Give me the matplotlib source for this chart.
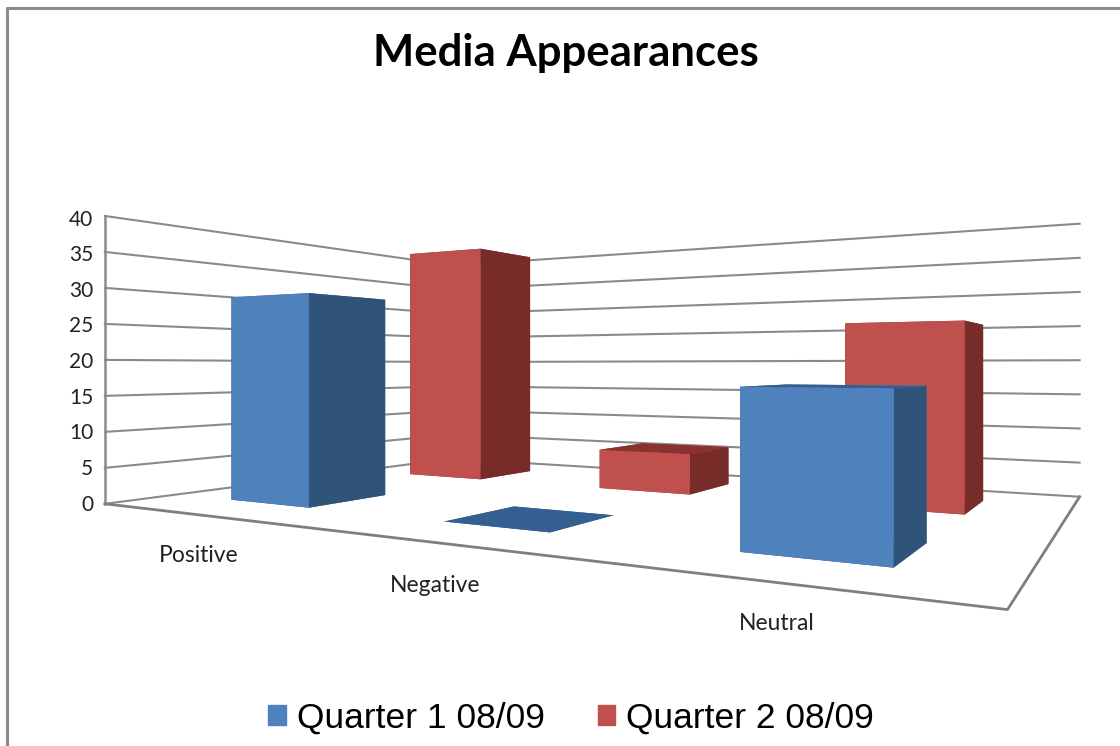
import numpy as np
import matplotlib
matplotlib.use("Agg")
import matplotlib.pyplot as plt
from matplotlib.lines import Line2D
from matplotlib.patches import Patch
from mpl_toolkits.mplot3d import proj3d

# values
categories = ["Positive", "Negative", "Neutral"]
series = ["Quarter 1 08/09", "Quarter 2 08/09"]
q1_values = [29, 0, 17]
q2_values = [39, 6, 25]
z_ticks = [0, 5, 10, 15, 20, 25, 30, 35, 40]

W, H = 1120, 746
fig = plt.figure(figsize=(W / 100, H / 100), dpi=100)

# axes bigger than the figure so the camera centre lands on the floor centre
side = 1120
ax = fig.add_axes([30 / W, -195.5 / H, side / W, side / H], projection="3d")
ax.set_axis_off()
ax.patch.set_alpha(0)
ax.computed_zorder = False

# two point perspective, eye level sits a bit below the middle of the wall
ax.set_proj_type("persp", focal_length=0.1596)
ax.view_init(elev=0, azim=-60)
ax.set_xlim(0, 3)
ax.set_ylim(0, 2)
ax.set_zlim(0, 38.2)
box = np.array([8.13, 5.28, 2.66]) * 0.1662
ax.set_box_aspect(box, zoom=np.linalg.norm(box) / (1.8294640721620434 * 25 / 24))

# walls
grid_color = "#8a8a8a"
for z in z_ticks:
    ax.plot([0, 0, 3], [0, 2, 2], [z, z, z], color=grid_color, lw=1.5, zorder=1)
    # 2d text placed from the projected point left of the wall corner
    tx, ty, _ = proj3d.proj_transform(-0.07, 0, z - 0.3, ax.get_proj())
    ax.text2D(tx, ty, str(z), transform=ax.transData, ha="right", va="center",
              fontsize=15, family="Lato", color="#222222", zorder=6)
ax.plot([0, 0], [0, 0], [0, 40], color=grid_color, lw=1.8, zorder=1)

# floor edge
ax.plot([0, 3, 3], [0, 0, 2], [0, 0, 0], color="#7f7f7f", lw=2, zorder=1)

bar_dx = 0.4
bar_dy = 0.39
blue = ["#2f5a8c", "#365f91", "#4f81bd", "#4f81bd", "#2f5379", "#2f5379"]
red = ["#8a322f", "#8a322f", "#c0504d", "#c0504d", "#772c2a", "#772c2a"]

for i in range(len(categories)):
    ax.bar3d(i + 0.303, 1.5 - bar_dy / 2, 0, bar_dx, bar_dy, q2_values[i],
             color=red, shade=False, linewidth=0, zorder=2)
for i in range(len(categories)):
    ax.bar3d(i + 0.303, 0.5 - bar_dy / 2, 0, bar_dx, bar_dy, q1_values[i],
             color=blue, shade=False, linewidth=0, zorder=3)

# category labels
label_pos = [(199, 556), (435, 585), (777, 624)]
for name, (px, py) in zip(categories, label_pos):
    fig.text(px / W, 1 - py / H, name, ha="center", va="center", fontsize=16.5,
             family="Lato", color="#222222")

fig.text(566 / W, 1 - 53 / H, "Media Appearances", ha="center", va="center",
         fontsize=31.5, fontweight="bold", family="Lato", color="black")

handles = [Patch(color="#4f81bd"), Patch(color="#c0504d")]
fig.legend(handles, series, loc="center", bbox_to_anchor=(571 / W, 1 - 718 / H), ncol=2,
           frameon=False, prop={"family": "Liberation Sans", "size": 25.5},
           handlelength=0.5, handleheight=0.5, handletextpad=0.31, columnspacing=1.5)

# picture frame, left and top only
frame = "#8c8c8c"
fig.add_artist(Line2D([7 / W, 7 / W, 1], [0, 1 - 7.5 / H, 1 - 7.5 / H], color=frame, lw=2.2))

fig.savefig("out.png", dpi=100)
